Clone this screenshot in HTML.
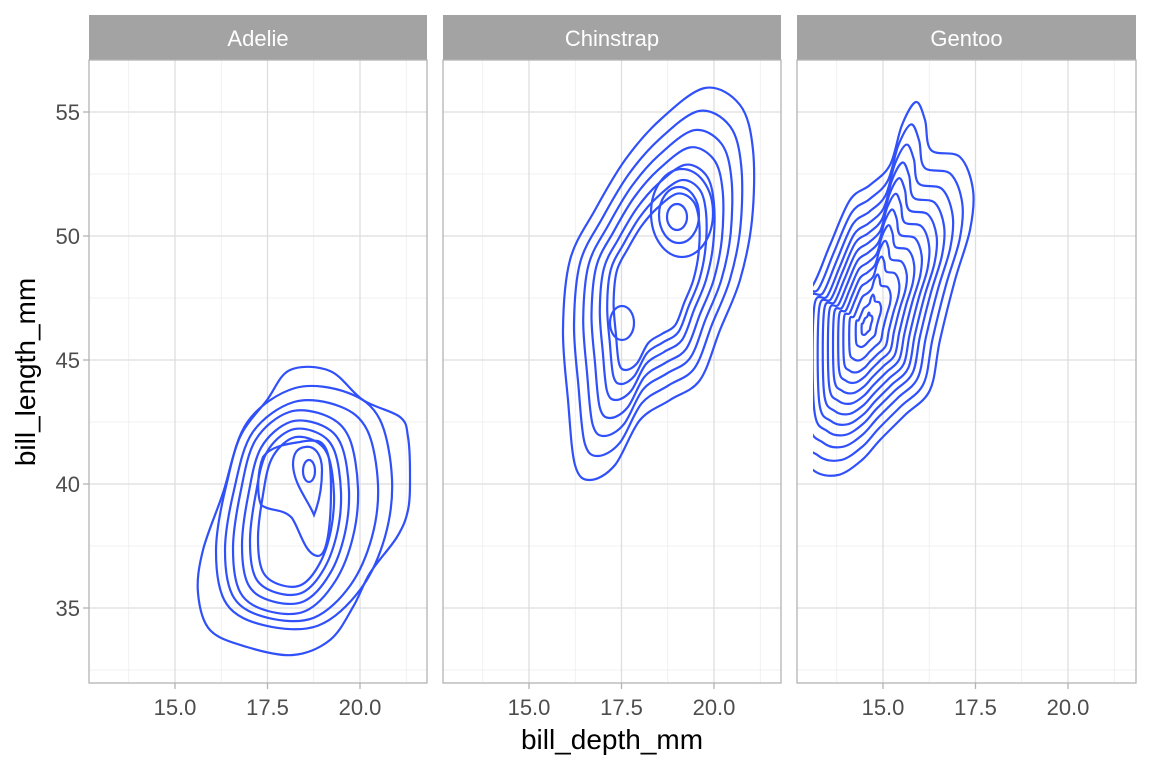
<!DOCTYPE html>
<html><head><meta charset="utf-8"><style>
body{margin:0;background:#fff;}
svg text{font-family:"Liberation Sans",sans-serif;}
</style></head><body>
<svg id="s" width="1152" height="768" xmlns="http://www.w3.org/2000/svg">
<defs>
<clipPath id="c0"><rect x="89" y="60" width="338" height="623"/></clipPath>
<clipPath id="c1"><rect x="443" y="60" width="338" height="623"/></clipPath>
<clipPath id="c2"><rect x="813" y="60" width="323" height="623"/></clipPath>
</defs>
<g id="g"></g>
<text x="612" y="749" font-size="28" text-anchor="middle" fill="#000">bill_depth_mm</text>
<text transform="translate(35,372) rotate(-90)" font-size="28" text-anchor="middle" fill="#000">bill_length_mm</text>
</svg>
<script>
var g=document.getElementById('g'),h='';
var panels=[[89,'Adelie'],[443,'Chinstrap'],[797,'Gentoo']];
function X(off,v){return off+86+(v-15)*37;}
function Y(v){return 112+(55-v)*24.8;}
panels.forEach(function(p,i){
 var L=p[0],W=(i==2?339:338);
 h+='<rect x="'+L+'" y="60" width="'+W+'" height="623" fill="#fff"/>';
 [13.75,16.25,18.75,21.25].forEach(function(v){var x=X(L,v);h+='<line x1="'+x+'" x2="'+x+'" y1="60" y2="683" stroke="#ebebeb" stroke-width="0.7"/>';});
 [32.5,37.5,42.5,47.5,52.5].forEach(function(v){var y=Y(v);h+='<line x1="'+L+'" x2="'+(L+W)+'" y1="'+y+'" y2="'+y+'" stroke="#ebebeb" stroke-width="0.7"/>';});
 [15,17.5,20].forEach(function(v){var x=X(L,v);h+='<line x1="'+x+'" x2="'+x+'" y1="60" y2="683" stroke="#dedede" stroke-width="1.3"/>';
   h+='<line x1="'+x+'" x2="'+x+'" y1="683" y2="689" stroke="#b3b3b3" stroke-width="1.3"/>';
   h+='<text x="'+x+'" y="715" font-size="22" text-anchor="middle" fill="#4d4d4d">'+v.toFixed(1)+'</text>';});
 [35,40,45,50,55].forEach(function(v){var y=Y(v);h+='<line x1="'+L+'" x2="'+(L+W)+'" y1="'+y+'" y2="'+y+'" stroke="#dedede" stroke-width="1.3"/>';
   if(i==0){h+='<line x1="83" x2="89" y1="'+y+'" y2="'+y+'" stroke="#b3b3b3" stroke-width="1.3"/><text x="80" y="'+(y+8)+'" font-size="22" text-anchor="end" fill="#4d4d4d">'+v+'</text>';}});
 h+='<rect x="'+L+'" y="15" width="'+W+'" height="45" fill="#a3a3a3"/>';
 h+='<text x="'+(L+W/2)+'" y="46" font-size="22" text-anchor="middle" fill="#fff">'+p[1]+'</text>';
});
function cr(pts){var n=pts.length,d='M'+pts[0][0].toFixed(1)+','+pts[0][1].toFixed(1);
 for(var k=0;k<n;k++){var p0=pts[(k-1+n)%n],p1=pts[k],p2=pts[(k+1)%n],p3=pts[(k+2)%n];
  d+='C'+(p1[0]+(p2[0]-p0[0])/6).toFixed(1)+','+(p1[1]+(p2[1]-p0[1])/6).toFixed(1)+' '+(p2[0]-(p3[0]-p1[0])/6).toFixed(1)+','+(p2[1]-(p3[1]-p1[1])/6).toFixed(1)+' '+p2[0].toFixed(1)+','+p2[1].toFixed(1);}
 return d+'Z';}
function P(d,clip){h+='<path d="'+d+'" fill="none" stroke="#3050fa" stroke-width="2.2"'+(clip?' clip-path="url(#'+clip+')"':'')+'/>';}
function nest(outer,cIn,cOut,scales,clip){
 scales.forEach(function(s){var sy=s[1]||s, sx=s[0]||s;var t=(sx+sy)/2;var c=[cIn[0]+(cOut[0]-cIn[0])*t,cIn[1]+(cOut[1]-cIn[1])*t];
  var pts=outer.map(function(q){return [c[0]+(q[0]-cOut[0])*sx,c[1]+(q[1]-cOut[1])*sy];});
  P(cr(pts),clip);});}
var A=[[290,370],[330,371],[363,400],[400,417],[408,437],[410,475],[408,510],[397,537],[370,573],[353,607],[330,640],[293,655],[247,647],[210,630],[198,593],[203,550],[223,493],[240,437],[267,400]];
P(cr(A),'c0');
var N=[[0.45,0],[0.75,0.02],[0.93,0.13],[1,0.38],[0.96,0.62],[0.82,0.84],[0.58,0.99],[0.28,0.99],[0.06,0.9],[0,0.68],[0.06,0.4],[0.18,0.14]];
[[216,388,392,628],[225,402,378,620],[233,412,358,613],[242,422,349,603],[250,430,341,594],[258,438,334,586]].forEach(function(b){
 P(cr(N.map(function(q){return [b[0]+q[0]*(b[2]-b[0]),b[1]+q[1]*(b[3]-b[1])];})),'c0');});
P('M300,442C285,444 270,447 263,457C257,472 257,495 261,505C271,512 283,508 292,518C300,530 305,555 318,556C328,556 331,520 331,490C331,460 328,444 318,441C310,440 305,441 300,442Z');
P('M305,447C315,445 322,455 322,470C322,490 318,505 314,515C308,500 294,485 293,465C293,452 298,448 305,447Z');
h+='<ellipse cx="309" cy="471" rx="6" ry="11" fill="none" stroke="#3050fa" stroke-width="2.2"/>';
var C=[[705,88],[740,105],[753,150],[752,220],[740,280],[720,330],[700,380],[670,400],[640,420],[615,465],[590,480],[575,465],[568,400],[563,330],[570,260],[595,210],[625,160],[660,120]];
nest(C,[655,280],[660,284],[1,0.88,0.78,0.69,0.6,0.52,0.45],'c1');
[[677,217,10,13],[679,215,20,28],[682,213,31,44],[622,323,12,17]].forEach(function(e){
 h+='<ellipse cx="'+e[0]+'" cy="'+e[1]+'" rx="'+e[2]+'" ry="'+e[3]+'" fill="none" stroke="#3050fa" stroke-width="2.2"/>';});
var G=[[916,102],[925,120],[931,150],[960,157],[973,190],[970,230],[955,280],[940,340],[930,390],[905,415],[880,440],[862,460],[838,475],[813,470],[795,440],[795,300],[813,285],[830,245],[850,200],[870,185],[890,165],[902,125]];
nest(G,[866,326],[885,300],[1,0.9,0.81,0.73,0.66,0.59,0.52,0.45,0.38,0.31,0.23,0.14,0.06],'c2');
panels.forEach(function(p,i){var W=(i==2?339:338);h+='<rect x="'+p[0]+'" y="60" width="'+W+'" height="623" fill="none" stroke="#b3b3b3" stroke-width="1.3"/>';});
g.innerHTML=h;
</script>
</body></html>
